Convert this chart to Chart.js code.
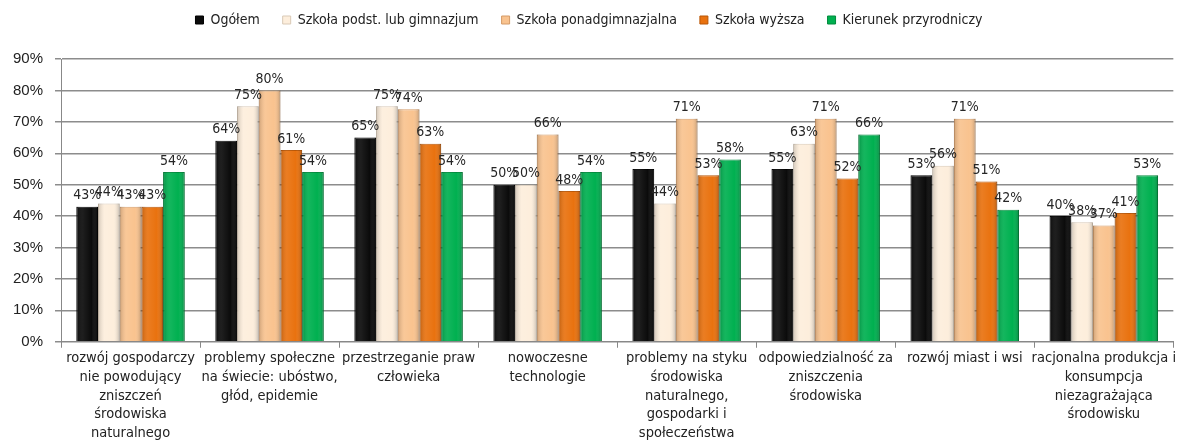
<!DOCTYPE html>
<html lang="pl">
<head>
<meta charset="utf-8">
<script src="https://cdn.jsdelivr.net/npm/chart.js@4/dist/chart.umd.min.js"></script>
<style>
  body { margin: 0; background: #fff; }
  #wrap { width: 1177px; height: 441px; }
</style>
</head>
<body>
<div id="wrap"><canvas id="grafica" width="1177" height="441"></canvas></div>
<script>
// kategorie (oś X)
const kategorie = [
  ['rozwój gospodarczy', 'nie powodujący', 'zniszczeń', 'środowiska', 'naturalnego'],
  ['problemy społeczne', 'na świecie: ubóstwo,', 'głód, epidemie'],
  ['przestrzeganie praw', 'człowieka'],
  ['nowoczesne', 'technologie'],
  ['problemy na styku', 'środowiska', 'naturalnego,', 'gospodarki i', 'społeczeństwa'],
  ['odpowiedzialność za', 'zniszczenia', 'środowiska'],
  ['rozwój miast i wsi'],
  ['racjonalna produkcja i', 'konsumpcja', 'niezagrażająca', 'środowisku']
];

// serie (w %)
const ogolem        = [43, 64, 65, 50, 55, 55, 53, 40];
const szkolaPodst   = [44, 75, 75, 50, 44, 63, 56, 38];
const szkolaPonad   = [43, 80, 74, 66, 71, 71, 71, 37];
const szkolaWyzsza  = [43, 61, 63, 48, 53, 52, 51, 41];
const przyrodniczy  = [54, 54, 54, 54, 58, 66, 42, 53];

const nazwySerii = ['Ogółem', 'Szkoła podst. lub gimnazjum', 'Szkoła ponadgimnazjalna', 'Szkoła wyższa', 'Kierunek przyrodniczy'];
const kolory = ['#0b0b0b', '#fdeedc', '#f9c38f', '#e9720f', '#00b050'];
const ramki = ['#000000', '#d9c9b6', '#d49a66', '#b85606', '#008a3c'];

const osY = [0, 10, 20, 30, 40, 50, 60, 70, 80, 90];

const waska = "'Liberation Sans Narrow', 'DejaVu Sans Condensed', 'Liberation Sans', sans-serif";
const zwykla = "'Liberation Sans', Arial, sans-serif";

// plugin - cieniowanie słupków i etykiety z wartościami
const etykietyPlugin = {
  id: 'etykiety',
  afterDatasetsDraw(chart) {
    const ctx = chart.ctx;
    ctx.save();
    // lekki efekt walca na słupkach
    chart.data.datasets.forEach((ds, i) => {
      chart.getDatasetMeta(i).data.forEach((bar) => {
        const x0 = bar.x - bar.width / 2;
        const x1 = bar.x + bar.width / 2;
        const g = ctx.createLinearGradient(x0, 0, x1, 0);
        g.addColorStop(0, 'rgba(0,0,0,0.18)');
        g.addColorStop(0.3, 'rgba(255,255,255,0.08)');
        g.addColorStop(0.7, 'rgba(255,255,255,0.0)');
        g.addColorStop(1, 'rgba(0,0,0,0.22)');
        ctx.fillStyle = g;
        ctx.fillRect(x0, bar.y, bar.width, bar.base - bar.y);
      });
    });
    ctx.font = '14px ' + waska;
    ctx.fillStyle = '#262626';
    ctx.textAlign = 'center';
    ctx.textBaseline = 'bottom';
    chart.data.datasets.forEach((ds, i) => {
      chart.getDatasetMeta(i).data.forEach((bar, j) => {
        ctx.fillText(ds.data[j] + '%', bar.x, bar.y - 4);
      });
    });
    ctx.restore();
  }
};

// legenda - dodatkowy odstęp pod legendą
const odstepLegendy = {
  id: 'odstepLegendy',
  beforeInit(chart) {
    const fitOrig = chart.legend.fit;
    chart.legend.fit = function () {
      fitOrig.bind(chart.legend)();
      this.height += 22;
    };
  }
};

const serie = [ogolem, szkolaPodst, szkolaPonad, szkolaWyzsza, przyrodniczy];

new Chart(document.getElementById('grafica'), {
  type: 'bar',
  data: {
    labels: kategorie,
    datasets: serie.map((s, i) => ({
      label: nazwySerii[i],
      data: s,
      backgroundColor: kolory[i],
      borderColor: ramki[i],
      borderWidth: 1,
      categoryPercentage: 0.78,
      barPercentage: 1
    }))
  },
  options: {
    responsive: false,
    animation: false,
    layout: { padding: { left: 1, right: 0, top: -10, bottom: -3 } },
    plugins: {
      legend: {
        position: 'top',
        labels: {
          boxWidth: 8,
          boxHeight: 8,
          padding: 23,
          color: '#222',
          font: { family: waska, size: 14 }
        }
      },
      tooltip: { enabled: false }
    },
    scales: {
      x: {
        grid: { drawOnChartArea: false, drawTicks: true, tickLength: 6, color: '#888' },
        border: { color: '#888' },
        ticks: {
          color: '#222',
          maxRotation: 0,
          autoSkip: false,
          padding: 1,
          font: { family: waska, size: 14.5, lineHeight: 1.3 }
        }
      },
      y: {
        min: 0,
        max: 90,
        afterBuildTicks(axis) { axis.ticks = osY.map(v => ({ value: v })); },
        grid: { color: '#8c8c8c', lineWidth: 1.5, tickLength: 6 },
        border: { color: '#888' },
        ticks: {
          color: '#222',
          padding: 12,
          font: { family: zwykla, size: 15 },
          callback: v => v + '%'
        }
      }
    }
  },
  plugins: [etykietyPlugin, odstepLegendy]
});
</script>
</body>
</html>
